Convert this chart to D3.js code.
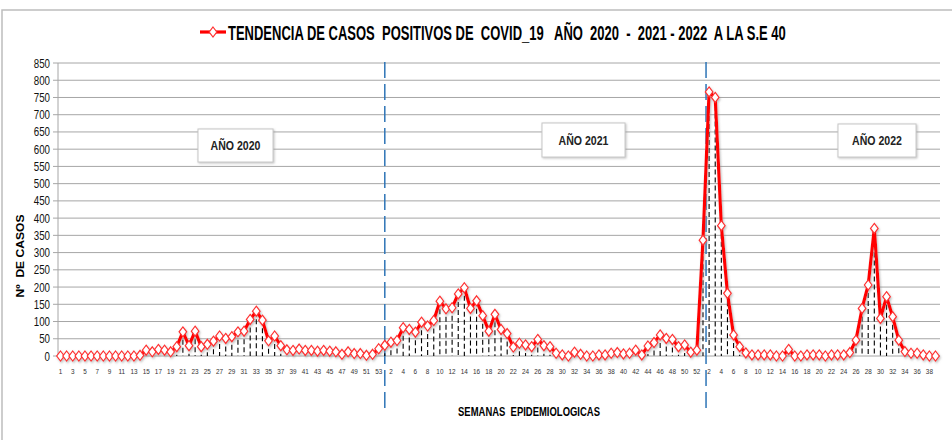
<!DOCTYPE html>
<html>
<head>
<meta charset="utf-8">
<script src="https://cdn.jsdelivr.net/npm/d3@7"></script>
<style>
  body { margin: 0; background: #fff; }
  svg { display: block; }
  text { font-family: "Liberation Sans", Arial, sans-serif; }
</style>
</head>
<body>
<svg id="chart" width="952" height="440"></svg>
<script>
// weekly positive cases
const cases2020 = [0, 0, 0, 0, 0, 0, 0, 0, 0, 0, 0, 0, 0, 2, 17, 12, 19, 17, 12, 27,
    70, 30, 72, 27, 34, 43, 58, 51, 56, 70, 72, 106, 130, 104, 44, 58, 30, 18, 16, 20,
    16, 16, 14, 16, 14, 12, 5, 12, 7, 7, 2, 5, 21]
const cases2021 = [31, 40, 45, 82, 77, 69, 98, 87, 103, 159, 137, 140, 180, 198, 138, 160, 117, 72, 121, 77,
    65, 26, 37, 32, 27, 48, 30, 27, 8, 3, 0, 11, 5, 0, 0, 3, 3, 8, 10, 6,
    8, 17, 3, 29, 39, 61, 51, 48, 27, 32, 11, 17]
const cases2022 = [336, 766, 750, 378, 182, 61, 27, 9, 3, 3, 3, 3, 0, 0, 19, 0, 0, 3, 3, 3,
    0, 3, 3, 3, 10, 46, 138, 206, 370, 109, 172, 114, 46, 13, 8, 8, 3, 0, 0]
const yTicks = d3.range(0, 851, 50)
const yearBoxes = ['AÑO 2020', 'AÑO 2021', 'AÑO 2022']

const title = 'TENDENCIA DE CASOS  POSITIVOS DE  COVID_19   AÑO  2020  -  2021 - 2022  A LA S.E 40'

let data = []
;[cases2020, cases2021, cases2022].forEach((arr, yi) => {
    arr.forEach((v, i) => data.push({ week: i + 1, year: yi, value: v }))
})
data.forEach((d, i) => d.idx = i)

const svg = d3.select('#chart')

const defs = svg.append('defs')
const f = defs.append('filter').attr('id', 'glow').attr('x', '-50%').attr('y', '-50%').attr('width', '200%').attr('height', '200%')
f.append('feDropShadow').attr('dx', 1).attr('dy', 1.5).attr('stdDeviation', 1.2)
    .attr('flood-color', '#888').attr('flood-opacity', 0.55)
const bs = defs.append('filter').attr('id', 'boxshadow').attr('x', '-20%').attr('y', '-20%').attr('width', '140%').attr('height', '150%')
bs.append('feDropShadow').attr('dx', 1).attr('dy', 1).attr('stdDeviation', 1)
    .attr('flood-color', '#999').attr('flood-opacity', 0.6)

// squeeze a text horizontally so it spans the given width (narrow font look)
function fitText(sel, width) {
    const w = sel.node().getComputedTextLength()
    const tr = sel.attr('data-tr') || ''
    sel.attr('transform', `${tr} scale(${width / w},1)`)
}

// chart frame
svg.append('rect')
    .attr('x', 2).attr('y', 10).attr('width', 960).attr('height', 440)
    .attr('fill', '#fff').attr('stroke', '#bdbdbd').attr('stroke-width', 1.5)

const x = d3.scaleLinear().domain([0, data.length - 1]).range([60.5, 935.5])
const y = d3.scaleLinear().domain([0, 850]).range([356, 63])

// grid
svg.append('g').selectAll('line').data(yTicks).join('line')
    .attr('x1', 53).attr('x2', 940)
    .attr('y1', d => y(d)).attr('y2', d => y(d))
    .attr('stroke', '#a6a6a6').attr('stroke-width', 1)

svg.append('line').attr('x1', 58).attr('x2', 58).attr('y1', y(850)).attr('y2', y(0))
    .attr('stroke', '#a6a6a6')

svg.append('g').selectAll('text').data(yTicks).join('text')
    .attr('transform', d => `translate(50,${y(d)}) scale(0.78,1)`)
    .attr('dy', '0.36em')
    .attr('text-anchor', 'end').attr('font-size', 12.5).attr('fill', '#111')
    .text(d => d)

// x tick labels: every other week
svg.append('g').selectAll('text').data(data.filter(d => d.idx % 2 === 0)).join('text')
    .attr('transform', d => `translate(${x(d.idx)},374) scale(0.85,1)`)
    .attr('text-anchor', 'middle').attr('font-size', 7.5).attr('fill', '#333')
    .text(d => d.week)

// year separators
const sep = [x(cases2020.length), (x(cases2020.length + cases2021.length) + x(cases2020.length + cases2021.length + 1)) / 2]
svg.append('g').selectAll('line').data(sep).join('line')
    .attr('x1', d => d).attr('x2', d => d).attr('y1', 62).attr('y2', 408)
    .attr('stroke', '#2e75b6').attr('stroke-width', 1.5).attr('stroke-dasharray', '16,6')

// drop lines
svg.append('g').selectAll('line').data(data).join('line')
    .attr('x1', d => x(d.idx)).attr('x2', d => x(d.idx))
    .attr('y1', d => y(d.value)).attr('y2', y(0))
    .attr('stroke', '#000').attr('stroke-width', 1.1).attr('stroke-dasharray', '5,3')

// series line + markers
const line = d3.line().x(d => x(d.idx)).y(d => y(d.value))
const series = svg.append('g').attr('filter', 'url(#glow)')
series.append('path').datum(data)
    .attr('d', line).attr('fill', 'none')
    .attr('stroke', '#ff0000').attr('stroke-width', 3.2).attr('stroke-linejoin', 'round')

const diamond = 'M0,-5L3.8,0L0,5L-3.8,0Z'
series.selectAll('path.m').data(data).join('path').attr('class', 'm')
    .attr('d', diamond)
    .attr('transform', d => `translate(${x(d.idx)},${y(d.value)})`)
    .attr('fill', '#fff').attr('stroke', '#ff3030').attr('stroke-width', 1.2)

// year boxes
const boxes = [
    { x: 198, y: 129, w: 75, h: 33 },
    { x: 542, y: 123, w: 83, h: 34 },
    { x: 838, y: 124, w: 78, h: 33 }
]
boxes.forEach((b, i) => {
    svg.append('rect').attr('x', b.x).attr('y', b.y).attr('width', b.w).attr('height', b.h)
        .attr('fill', '#fff').attr('stroke', '#c8c8c8').attr('stroke-width', 1)
        .attr('filter', 'url(#boxshadow)')
    const t = svg.append('text')
        .attr('data-tr', `translate(${b.x + b.w / 2},${b.y + b.h / 2 + 4.5})`)
        .attr('text-anchor', 'middle').attr('font-size', 13).attr('font-weight', 'bold')
        .attr('fill', '#222')
        .text(yearBoxes[i])
    fitText(t, 50)
})

// title with legend marker
svg.append('line').attr('x1', 200).attr('x2', 226).attr('y1', 32).attr('y2', 32)
    .attr('stroke', '#ff0000').attr('stroke-width', 3.2)
svg.append('path').attr('d', diamond).attr('transform', 'translate(213,32)')
    .attr('fill', '#fff').attr('stroke', '#ff3030').attr('stroke-width', 1.2)
const tt = svg.append('text').attr('data-tr', 'translate(228,40)')
    .attr('font-size', 20).attr('font-weight', 'bold').attr('fill', '#000')
    .style('white-space', 'pre')
    .text(title)
fitText(tt, 558)

// axis titles
const yl = svg.append('text').attr('data-tr', 'translate(24,256) rotate(-90)')
    .attr('text-anchor', 'middle').attr('font-size', 11).attr('font-weight', 'bold')
    .style('white-space', 'pre')
    .text('Nº  DE CASOS')
fitText(yl, 83)

const xl = svg.append('text').attr('data-tr', 'translate(529,416)')
    .attr('text-anchor', 'middle')
    .attr('font-size', 12.5).attr('font-weight', 'bold')
    .style('white-space', 'pre')
    .text('SEMANAS  EPIDEMIOLOGICAS')
fitText(xl, 142)
</script>
</body>
</html>
